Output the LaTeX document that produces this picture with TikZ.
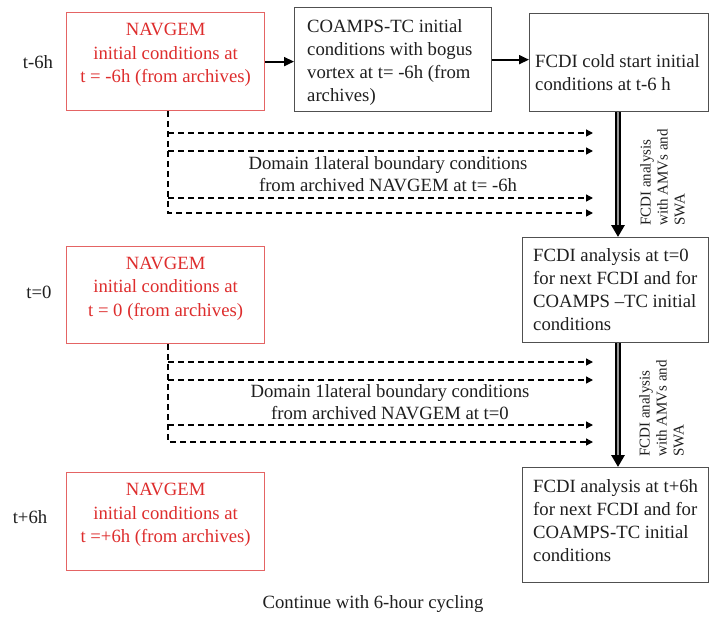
\documentclass[tikz,border=0pt]{standalone}
\usepackage{fontspec}
\setmainfont{Liberation Serif}
\usetikzlibrary{arrows.meta,calc}
\definecolor{navred}{RGB}{222,45,45}
\definecolor{navborder}{RGB}{228,100,100}
\definecolor{boxline}{RGB}{80,80,80}
\definecolor{dblgray}{RGB}{150,150,150}
\begin{document}
\begin{tikzpicture}[x=1pt,y=-1pt,
  redbox/.style={draw=navborder, line width=1.2pt, minimum width=198pt, minimum height=98pt, anchor=north west, inner sep=0},
  blkbox/.style={draw=boxline, line width=1.3pt, anchor=north west, inner sep=0},
  redtxt/.style={text=navred, font=\fontsize{18.7}{23.5}\selectfont, align=center, inner sep=0},
  blktxt/.style={text=black!88, font=\fontsize{18.7}{23}\selectfont, align=left, inner sep=0, anchor=west},
  lbl/.style={text=black!88, font=\fontsize{18.7}{22}\selectfont, inner sep=0},
  rottxt/.style={text=black!88, font=\fontsize{15}{17}\selectfont, align=left, rotate=90, anchor=north west, inner sep=0},
  dsh/.style={line width=1.4pt, dash pattern=on 6pt off 4pt, -{Triangle[length=7pt,width=7pt]}},
  solidarr/.style={line width=1.8pt, -{Triangle[length=10pt,width=9pt]}},
  dblout/.style={line width=5.5pt, -{Triangle[length=12pt,width=13pt]}},
  dblin/.style={line width=2pt, draw=dblgray, shorten >=12pt},
]
\path[fill=white] (0,0) rectangle (710,619);
\useasboundingbox (0,0) rectangle (710,619);

% boxes
\node[redbox] (r1) at (66,12) {};
\node[redbox, minimum height=97pt] (r2) at (66,246) {};
\node[redbox] (r3) at (66,472) {};
\node[blkbox, minimum width=197pt, minimum height=104pt] (b2) at (294,7) {};
\node[blkbox, minimum width=179pt, minimum height=98pt] (b3) at (529,13) {};
\node[blkbox, minimum width=186pt, minimum height=105pt] (b4) at (522,237) {};
\node[blkbox, minimum width=186pt, minimum height=115pt] (b5) at (522,467) {};

% red texts
\node[redtxt, yshift=6.5pt] (r1t) at (r1.center) {NAVGEM\\initial conditions at\\t = -6h (from archives)};
\node[redtxt, yshift=6.5pt] (r2t) at (r2.center) {NAVGEM\\initial conditions at\\t = 0 (from archives)};
\node[redtxt, yshift=6.5pt] (r3t) at (r3.center) {NAVGEM\\initial conditions at\\t =+6h (from archives)};

% time labels
\node[lbl] (l1) at (38,62) {t-6h};
\node[lbl] (l2) at (39,292) {t=0};
\node[lbl] (l3) at (30,517) {t+6h};

% black texts
\node[blktxt] (b2t) at (307,62.3) {COAMPS-TC initial\\conditions with bogus\\vortex at t= -6h (from\\archives)};
\node[blktxt] (b3t) at (535,73) {FCDI cold start initial\\conditions at t-6 h};
\node[blktxt] (b4t) at (533,289.5) {FCDI analysis at t=0\\for next FCDI and for\\COAMPS --TC initial\\conditions};
\node[blktxt] (b5t) at (533,521) {FCDI analysis at t+6h\\for next FCDI and for\\COAMPS-TC initial\\conditions};

% domain texts
\node[lbl, align=center] (d1) at (388,174.6) {Domain 1lateral boundary conditions\\from archived NAVGEM at t= -6h};
\node[lbl, align=center] (d2) at (390,402.6) {Domain 1lateral boundary conditions\\from archived NAVGEM at t=0};

\node[lbl] (cont) at (373,604) {Continue with 6-hour cycling};

% solid arrows
\draw[solidarr] (r1.east) -- (r1.east -| b2.west);
\draw[solidarr] (b2.east) -- (b2.east -| b3.west);

% dashed arrows
\coordinate (ex) at (593,0);
\coordinate (a1) at (168,133);
\coordinate (a2) at (168,151);
\coordinate (a3) at (168,198);
\coordinate (a4) at (168,213);
\draw[dsh] (r1.south -| a1) |- (a4 -| ex);
\draw[dsh] (a1) -- (a1 -| ex);
\draw[dsh] (a2) -- (a2 -| ex);
\draw[dsh] (a3) -- (a3 -| ex);

\coordinate (c1) at (168,362);
\coordinate (c2) at (168,380);
\coordinate (c3) at (168,425);
\coordinate (c4) at (168,442);
\draw[dsh] (r2.south -| c1) |- (c4 -| ex);
\draw[dsh] (c1) -- (c1 -| ex);
\draw[dsh] (c2) -- (c2 -| ex);
\draw[dsh] (c3) -- (c3 -| ex);

% double arrows
\coordinate (ax) at (618,0);
\draw[dblout] (b3.south -| ax) -- (b4.north -| ax);
\draw[dblin] (b3.south -| ax) -- (b4.north -| ax);
\draw[dblout] (b4.south -| ax) -- (b5.north -| ax);
\draw[dblin] (b4.south -| ax) -- (b5.north -| ax);

% rotated labels
\node[rottxt] (rt1) at (640,226) {FCDI analysis\\with AMVs and\\SWA};
\node[rottxt] (rt2) at (639,457) {FCDI analysis\\with AMVs and\\SWA};
\end{tikzpicture}
\end{document}
